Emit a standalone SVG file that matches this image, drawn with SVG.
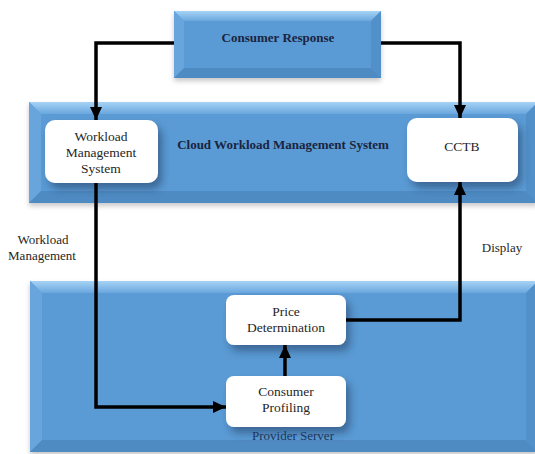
<svg xmlns="http://www.w3.org/2000/svg" width="535" height="454" viewBox="0 0 535 454">
  <style>
    .face { fill: #5b9bd5; }
    .hi { fill: url(#topBevel); }
    .lt { fill: #67a5dc; }
    .dk { fill: #5290c9; }
    .dd { fill: #4f8bc3; }
    .card { fill: #ffffff; }
    text { font-family: "Liberation Serif", "Times New Roman", "DejaVu Serif", serif; }
    .t { font-size: 13px; fill: #262626; text-anchor: middle; }
    .n { font-size: 13.5px; }
    .b { font-weight: bold; fill: #1a2440; }
    .navy { fill: #1f3458; }
    .wire { fill: none; stroke: #000; stroke-width: 3.5; stroke-linejoin: miter; }
  </style>
  <defs>
    <linearGradient id="topBevel" x1="0" y1="0" x2="0" y2="1">
      <stop offset="0" stop-color="#a6d3f5"/>
      <stop offset="1" stop-color="#6aa7de"/>
    </linearGradient>
    <filter id="shadow" x="-20%" y="-20%" width="150%" height="160%">
      <feDropShadow dx="4" dy="6" stdDeviation="4.5" flood-color="#1b3a60" flood-opacity="0.55"/>
    </filter>
    <filter id="panelShadow" x="-5%" y="-10%" width="115%" height="130%">
      <feDropShadow dx="0" dy="3" stdDeviation="2.5" flood-color="#000" flood-opacity="0.22"/>
    </filter>
    <marker id="arrow" markerUnits="userSpaceOnUse" markerWidth="14" markerHeight="14" viewBox="0 0 14 14" refX="13" refY="7" orient="auto">
      <path d="M0,1 L13,7 L0,13 Z" fill="#000"/>
    </marker>
  </defs>

  <!-- Provider Server panel -->
  <g id="provider-server">
    <g filter="url(#panelShadow)">
      <rect x="30" y="281" width="508" height="171" class="face"/>
    </g>
    <polygon points="30,281 538,281 526,293 42,293" class="hi"/>
    <polygon points="30,281 42,293 42,440 30,452" class="lt"/>
    <polygon points="538,281 538,452 526,440 526,293" class="dk"/>
    <polygon points="30,452 42,440 526,440 538,452" class="dd"/>
    <rect x="42" y="293" width="484" height="147" class="face"/>
    <text x="293" y="440" class="t navy">Provider Server</text>
  </g>

  <!-- Cloud Workload Management System panel -->
  <g id="cloud-workload-panel">
    <g filter="url(#panelShadow)">
      <rect x="29" y="102" width="509" height="101" class="face"/>
    </g>
    <polygon points="29,102 538,102 526,114 41,114" class="hi"/>
    <polygon points="29,102 41,114 41,191 29,203" class="lt"/>
    <polygon points="538,102 538,203 526,191 526,114" class="dk"/>
    <polygon points="29,203 41,191 526,191 538,203" class="dd"/>
    <rect x="41" y="114" width="485" height="77" class="face"/>
    <text x="283" y="149" class="t b">Cloud Workload Management System</text>
  </g>

  <!-- Consumer Response -->
  <g id="consumer-response">
    <g filter="url(#panelShadow)">
      <rect x="174" y="11" width="207" height="67" class="face"/>
    </g>
    <polygon points="174,11 381,11 371,21 184,21" class="hi"/>
    <polygon points="174,11 184,21 184,68 174,78" class="lt"/>
    <polygon points="381,11 381,78 371,68 371,21" class="dk"/>
    <polygon points="174,78 184,68 371,68 381,78" class="dd"/>
    <rect x="184" y="21" width="187" height="47" class="face"/>
    <text x="278" y="42" class="t b">Consumer Response</text>
  </g>

  <!-- Workload Management System -->
  <g id="workload-management-system">
    <rect x="45" y="120" width="113" height="63" rx="10" class="card" filter="url(#shadow)"/>
    <text x="101" y="141" class="t n">Workload</text>
    <text x="101" y="157" class="t n">Management</text>
    <text x="101" y="173" class="t n">System</text>
  </g>

  <!-- CCTB -->
  <g id="cctb">
    <rect x="407" y="118" width="111" height="64" rx="10" class="card" filter="url(#shadow)"/>
    <text x="462" y="151" class="t n">CCTB</text>
  </g>

  <!-- Price Determination -->
  <g id="price-determination">
    <rect x="226" y="295" width="120" height="50" rx="8" class="card" filter="url(#shadow)"/>
    <text x="286" y="316" class="t n">Price</text>
    <text x="286" y="332" class="t n">Determination</text>
  </g>

  <!-- Consumer Profiling -->
  <g id="consumer-profiling">
    <rect x="226" y="376" width="120" height="51" rx="8" class="card" filter="url(#shadow)"/>
    <text x="286" y="396" class="t n">Consumer</text>
    <text x="286" y="412" class="t n">Profiling</text>
  </g>

  <!-- Free labels on connectors -->
  <g id="labels">
    <text x="43" y="244" class="t">Workload</text>
    <text x="42" y="260" class="t">Management</text>
    <text x="502" y="252" class="t">Display</text>
  </g>

  <!-- Connectors -->
  <g id="connectors">
    <path d="M174,43 H96 V120" class="wire" marker-end="url(#arrow)"/>
    <path d="M381,43 H460 V118" class="wire" marker-end="url(#arrow)"/>
    <path d="M96,183 V407 H226" class="wire" marker-end="url(#arrow)"/>
    <path d="M285,376 V345" class="wire" marker-end="url(#arrow)"/>
    <path d="M346,320 H460 V182" class="wire" marker-end="url(#arrow)"/>
  </g>
</svg>
